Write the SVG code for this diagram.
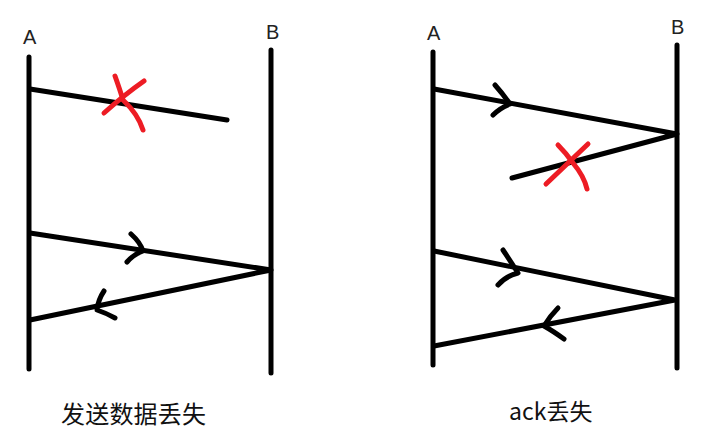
<svg xmlns="http://www.w3.org/2000/svg" width="705" height="438" viewBox="0 0 705 438">
<style>
.ln{stroke:#000;stroke-width:5;stroke-linecap:round;stroke-linejoin:round;fill:none}
.x{stroke:#ED1C24;stroke-width:5;stroke-linecap:round;stroke-linejoin:round;fill:none}
.lb{font-family:"Liberation Sans","DejaVu Sans",sans-serif;font-size:20px;fill:#222}
.cap{font-family:"Noto Sans CJK SC","Liberation Sans",sans-serif;font-size:24px;fill:#111}
</style>
<rect width="705" height="438" fill="#fff"/>
<g id="left-A"><line class="ln" x1="29" y1="57" x2="29" y2="369"/><text class="lb" x="23" y="44">A</text></g>
<g id="left-B"><line class="ln" x1="271" y1="50" x2="271" y2="373"/><text class="lb" x="266" y="39">B</text></g>
<g id="right-A"><line class="ln" x1="433" y1="52" x2="433" y2="365"/><text class="lb" x="427" y="40">A</text></g>
<g id="right-B"><line class="ln" x1="677" y1="45" x2="677" y2="368"/><text class="lb" x="671" y="34">B</text></g>
<g id="connectors">
<line class="ln" x1="30" y1="89" x2="227" y2="120"/>
<path class="ln" d="M30 233 L271 270 L30 320"/>
<path class="ln" d="M131 234 Q140 242 143 251 Q134 254 127 262"/>
<path class="ln" d="M104 291 Q98 300 97 310 Q106 313 115 318"/>
<path class="ln" d="M434 89 L677 134 L512 178"/>
<path class="ln" d="M495 85 Q503 94 510 104 Q500 108 493 115"/>
<path class="ln" d="M434 251 L675 300 L434 346"/>
<path class="ln" d="M503 250 Q511 262 518 273 Q506 276 498 285"/>
<path class="ln" d="M558 308 Q550 316 544 326 Q553 331 564 339"/>
</g>
<g id="x-left"><path class="x" d="M115 76 Q120 90 123 100 Q138 114 143 130"/><path class="x" d="M144 81 Q124 95 104 113"/></g>
<g id="x-right"><path class="x" d="M558 145 Q566 153 573 163 Q584 176 587 189"/><path class="x" d="M588 144 Q566 165 546 184"/></g>
<text class="cap" x="61" y="423" textLength="145" lengthAdjust="spacing">发送数据丢失</text>
<text class="cap" x="509" y="420" style="font-size:23px">ack丢失</text>
</svg>
